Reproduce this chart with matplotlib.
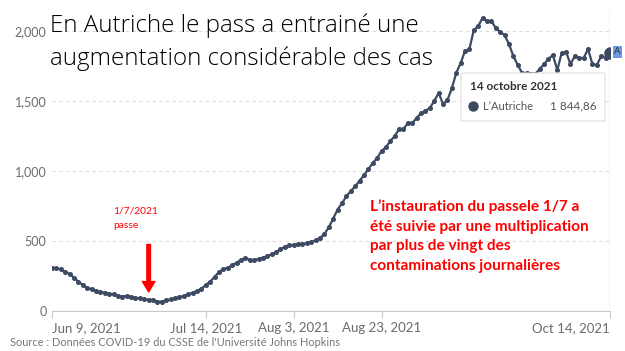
import matplotlib.pyplot as plt
import pandas as pd
from matplotlib.lines import Line2D
from matplotlib.patches import FancyBboxPatch

# 7-day average of daily new cases, Austria
dates = pd.date_range('2021-06-09', '2021-10-14')
cases = [309, 305, 298, 279, 264, 238, 210, 186, 167, 155,
         143, 136, 131, 124, 119, 107, 102, 109, 102, 95,
         90, 83, 81, 79, 67, 67, 76, 83, 90, 100,
         107, 119, 131, 143, 159, 186, 210, 243, 279, 298,
         310, 326, 345, 365, 378, 366, 362, 372, 380, 392,
         405, 420, 440, 460, 468, 474, 478, 480, 483, 492,
         505, 522, 550, 598, 660, 725, 770, 818, 857, 890,
         930, 970, 1014, 1057, 1093, 1143, 1170, 1214, 1250, 1300,
         1300, 1343, 1343, 1379, 1414, 1429, 1450, 1500, 1557, 1479,
         1507, 1590, 1700, 1771, 1857, 1871, 2007, 2036, 2093, 2071,
         2071, 2021, 1993, 1971, 1907, 1821, 1757, 1700, 1700, 1693,
         1693, 1729, 1764, 1800, 1829, 1721, 1843, 1850, 1764, 1821,
         1807, 1807, 1871, 1764, 1757, 1821, 1807, 1844.86]

tick_dates = pd.to_datetime(['2021-06-09', '2021-07-14', '2021-08-03',
                             '2021-08-23', '2021-10-14'])
tick_labels = ['Jun 9, 2021', 'Jul 14, 2021', 'Aug 3, 2021',
               'Aug 23, 2021', 'Oct 14, 2021']
y_ticks = [0, 500, 1000, 1500, 2000]
y_labels = ['0', '500', '1,000', '1,500', '2,000']

pass_date = pd.Timestamp('2021-07-01')

W, H = 625, 351


def fx(x):
    return x / W


def fy(y):
    return 1 - y / H


line_color = '#3d4a62'
red = '#ff0000'

fig = plt.figure(figsize=(6.25, 3.51), dpi=100)
ax = fig.add_axes([fx(52), fy(311), (610 - 52) / W, (311 - 10) / H])

ax.plot(dates, cases, color=line_color, lw=1.6, marker='o', ms=2.6,
        zorder=3)
ax.plot(dates[-1:], cases[-1:], color=line_color, marker='o', ms=8,
        zorder=4)
ax.axvline(dates[-1], color='#d0d0d0', lw=1, zorder=1)

ax.set_xlim(dates[0], dates[-1])
ax.set_ylim(0, 2150)
ax.set_yticks(y_ticks)
ax.set_yticklabels(y_labels)
ax.set_xticks(tick_dates)
ax.set_xticklabels(tick_labels)
xl = ax.get_xticklabels()
xl[0].set_ha('left')
xl[-1].set_ha('right')

for lab in ax.get_xticklabels() + ax.get_yticklabels():
    lab.set_family('Lato')
    lab.set_color('#6b6b6b')
for lab in ax.get_xticklabels():
    lab.set_fontsize(9.5)
for lab in ax.get_yticklabels():
    lab.set_fontsize(9)

ax.tick_params(axis='x', length=5, color='#c8c8c8', pad=3)
ax.tick_params(axis='y', length=0, pad=4)
for s in ['top', 'right', 'left']:
    ax.spines[s].set_visible(False)
ax.spines['bottom'].set_color('#c8c8c8')
ax.grid(axis='y', color='#dcdcdc', lw=0.8, ls=(0, (3, 3)))
ax.set_axisbelow(True)

# red arrow at the date of the pass
ax.annotate('', xy=(pass_date, 136), xytext=(pass_date, 475),
            arrowprops=dict(arrowstyle='simple,head_width=0.9,head_length=0.75,tail_width=0.26',
                            mutation_scale=10, color=red, shrinkA=0, shrinkB=0),
            zorder=5)
fig.text(fx(113), fy(211), '1/7/2021', color=red, fontsize=7.4,
         family='Lato', va='center')
fig.text(fx(113), fy(226), 'passe', color=red, fontsize=7.4,
         family='Lato', va='center')

note = ['L\u2019instauration du passele 1/7 a',
        'été suivie par une multiplication',
        'par plus de vingt des',
        'contaminations journalières']
for i, line in enumerate(note):
    fig.text(fx(370), fy(207 + 19.7 * i), line, color=red, fontsize=11.1,
             family='Lato', fontweight='bold', va='center')

# title
title_font = dict(family='Open Sans', fontweight='light', fontsize=17.4,
                  color='black', va='baseline')
fig.text(fx(50), fy(32), 'En Autriche le pass a entrainé une', **title_font)
fig.text(fx(50), fy(65), 'augmentation considérable des cas', **title_font)

# tooltip
box = FancyBboxPatch((fx(461), fy(121)), fx(605) - fx(461), fy(73) - fy(121),
                     boxstyle='round,pad=0,rounding_size=0.004',
                     transform=fig.transFigure, facecolor='white',
                     edgecolor='#dedede', lw=0.8, zorder=10)
fig.patches.append(box)
fig.text(fx(470), fy(87), '14 octobre 2021', family='Lato',
         fontweight='bold', fontsize=8.5, color='#333333', va='center',
         zorder=11)
fig.add_artist(Line2D([fx(473)], [fy(106)], marker='o', ms=6.5,
                      color=line_color, transform=fig.transFigure, zorder=11))
fig.text(fx(483), fy(106), 'L\u2019Autriche', family='Lato', fontsize=8,
         color='#555555', va='center', zorder=11)
fig.text(fx(597), fy(106), '1 844,86', family='Lato', fontsize=8.5,
         color='#555555', va='center', ha='right', zorder=11)

# clipped series label
fig.text(fx(614), fy(52), 'A', family='Lato', fontsize=7, color='#333333',
         va='center', ha='left',
         bbox=dict(boxstyle='square,pad=0.15', facecolor='#6d9ae6',
                   edgecolor='none'))

fig.text(fx(10), fy(343), "Source : Données COVID-19 du CSSE de l'Université Johns Hopkins",
         family='Lato', fontsize=7.9, color='#777777', va='center')

fig.savefig('out.png', dpi=100)
